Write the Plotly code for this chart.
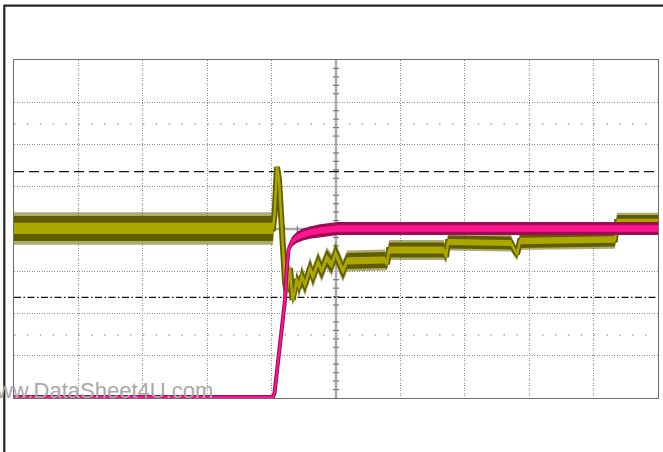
import plotly.graph_objects as go

# ---- data (time in divisions 0..10, amplitude in divisions 0..8) ----
olive_t = [0.000, 4.022, 4.045, 4.084, 4.115, 4.157, 4.182, 4.208, 4.234, 4.262,
           4.286, 4.325, 4.356, 4.390, 4.425, 4.467, 4.519, 4.596, 4.643, 4.720,
           4.778, 4.856, 4.933, 4.992, 5.047, 5.109, 5.171, 5.761, 5.792, 5.823,
           6.677, 6.708, 6.739, 7.717, 7.764, 7.811, 7.857, 9.332, 9.363, 10.000]
olive_v = [4.012, 4.012, 4.331, 5.467, 5.160, 3.929, 3.361, 2.746, 2.509, 2.793,
           3.077, 2.320, 2.509, 2.817, 2.604, 2.888, 2.675, 3.077, 2.864, 3.219,
           3.006, 3.314, 3.148, 3.432, 3.219, 3.006, 3.243, 3.266, 3.172, 3.503,
           3.503, 3.337, 3.692, 3.669, 3.527, 3.408, 3.716, 3.751, 4.166, 4.166]
olive_spread = [0.296, 0.296, 0.05, 0.04, 0.04, 0.04, 0.04, 0.05, 0.05, 0.06,
                0.08, 0.10, 0.13, 0.16, 0.18, 0.2, 0.2, 0.2, 0.2, 0.2,
                0.2, 0.2, 0.2, 0.2, 0.2, 0.2, 0.19, 0.19, 0.12, 0.18,
                0.18, 0.12, 0.155, 0.155, 0.12, 0.12, 0.166, 0.166, 0.166, 0.166]

pink_t = [0.000, 4.022, 4.045, 4.208, 4.231, 4.262, 4.312, 4.390, 4.488, 4.596,
          4.752, 5.031, 10.000]
pink_v = [0.024, 0.024, 0.118, 2.320, 2.982, 3.503, 3.692, 3.799, 3.870, 3.917,
          3.964, 4.012, 4.012]
pink_spread = [0.036, 0.036, 0.036, 0.05, 0.07, 0.09, 0.11, 0.13, 0.14, 0.145,
               0.15, 0.155, 0.155]

cursor_dash_level = 5.356
cursor_dashdot_level = 2.383
marker_rows = [6.485, 1.49]
watermark = "www.DataSheet4U.com"

# ---- styling ----
W, H = 663, 452
ML, MR, MT, MB = 14, 5, 60, 54
PW, PH = W - ML - MR, H - MT - MB

OLIVE_FRINGE = "rgba(105,103,0,0.55)"
OLIVE_DARK = "#5f5d00"
OLIVE_BRIGHT = "#aca700"
PINK_DARK = "#9c0c52"
PINK_BRIGHT = "#ff1490"


def band(t, v, s, frac, color):
    up = [vi + frac * si for vi, si in zip(v, s)]
    lo = [vi - frac * si for vi, si in zip(v, s)]
    return go.Scatter(x=list(t) + list(t)[::-1], y=up + lo[::-1], mode="lines",
                      fill="toself", fillcolor=color, line=dict(width=0),
                      hoverinfo="skip", showlegend=False)


def line(t, v, color, width):
    return go.Scatter(x=t, y=v, mode="lines", line=dict(color=color, width=width),
                      hoverinfo="skip", showlegend=False)


fig = go.Figure()
fig.add_trace(band(olive_t, olive_v, olive_spread, 1.3, OLIVE_FRINGE))
fig.add_trace(band(olive_t, olive_v, olive_spread, 1.0, OLIVE_DARK))
fig.add_trace(line(olive_t, olive_v, OLIVE_DARK, 6))
fig.add_trace(band(olive_t, olive_v, olive_spread, 0.45, OLIVE_BRIGHT))
fig.add_trace(line(olive_t, olive_v, OLIVE_BRIGHT, 2.5))

fig.add_trace(band(pink_t, pink_v, pink_spread, 1.0, PINK_DARK))
fig.add_trace(line(pink_t, pink_v, PINK_DARK, 4))
fig.add_trace(band(pink_t, pink_v, pink_spread, 0.5, PINK_BRIGHT))
fig.add_trace(line(pink_t, pink_v, PINK_BRIGHT, 2))

shapes = []
# centre graticule lines
shapes.append(dict(type="line", xref="x", yref="y", x0=5, x1=5, y0=0, y1=8,
                   line=dict(color="#ababab", width=2.5), layer="between"))
shapes.append(dict(type="line", xref="x", yref="y", x0=0, x1=10, y0=4, y1=4,
                   line=dict(color="#ababab", width=2.5), layer="between"))
for k in range(1, 40):
    if k % 5 == 0:
        continue
    shapes.append(dict(type="line", xref="x", yref="y", xsizemode="pixel", xanchor=5,
                       x0=-3, x1=3, y0=k * 0.2, y1=k * 0.2,
                       line=dict(color="#7a7a7a", width=1.2), layer="between"))
for k in range(1, 50):
    if k % 5 == 0:
        continue
    shapes.append(dict(type="line", xref="x", yref="y", ysizemode="pixel", yanchor=4,
                       y0=-3, y1=3, x0=k * 0.2, x1=k * 0.2,
                       line=dict(color="#7a7a7a", width=1.2), layer="between"))
# dotted marker rows
for r in marker_rows:
    shapes.append(dict(type="line", xref="x", yref="y", x0=0, x1=10, y0=r, y1=r,
                       line=dict(color="#a8a8a8", width=1.5, dash="1.5px,11.38px"),
                       layer="between"))
# cursors
shapes.append(dict(type="line", xref="x", yref="y", x0=0, x1=10,
                   y0=cursor_dash_level, y1=cursor_dash_level,
                   line=dict(color="#111111", width=1.3, dash="10px,5px"), layer="between"))
shapes.append(dict(type="line", xref="x", yref="y", x0=0, x1=10,
                   y0=cursor_dashdot_level, y1=cursor_dashdot_level,
                   line=dict(color="#111111", width=1.2, dash="7px,2.5px,1.5px,2.5px"),
                   layer="between"))
# outer frame (top and left)
lx = (4.3 - ML) / PW
ty = (H - MB - 5.7) / PH
shapes.append(dict(type="line", xref="paper", yref="paper", x0=lx, x1=1.05, y0=ty, y1=ty,
                   line=dict(color="#262626", width=2.2)))
shapes.append(dict(type="line", xref="paper", yref="paper", x0=lx, x1=lx, y0=ty + 0.003,
                   y1=-0.2, line=dict(color="#262626", width=2.2)))

fig.update_layout(
    width=W, height=H,
    margin=dict(l=ML, r=MR, t=MT, b=MB, pad=0),
    paper_bgcolor="white", plot_bgcolor="white",
    shapes=shapes,
    showlegend=False,
    xaxis=dict(range=[0, 10], dtick=1, tick0=0, showticklabels=False, ticks="",
               showgrid=True, gridcolor="#8e8e8e", griddash="1px,1.5px", gridwidth=1,
               zeroline=False, showline=True, mirror=True, linecolor="#6e6e6e",
               linewidth=1, layer="below traces", fixedrange=True),
    yaxis=dict(range=[0, 8], dtick=1, tick0=0, showticklabels=False, ticks="",
               showgrid=True, gridcolor="#8e8e8e", griddash="1px,1.5px", gridwidth=1,
               zeroline=False, showline=True, mirror=True, linecolor="#6e6e6e",
               linewidth=1, layer="below traces", fixedrange=True),
    annotations=[dict(text=watermark, xref="paper", yref="paper",
                      x=(-22 - ML) / PW, y=(H - MB - 390) / PH,
                      xanchor="left", yanchor="middle", showarrow=False,
                      font=dict(family="Liberation Sans, Arial", size=22, color="#a8a8a8"))],
)

fig.write_html(
    "out.html",
    config={"displayModeBar": False, "staticPlot": True},
    post_script="document.body.style.margin='0';document.body.style.overflow='hidden';",
)
